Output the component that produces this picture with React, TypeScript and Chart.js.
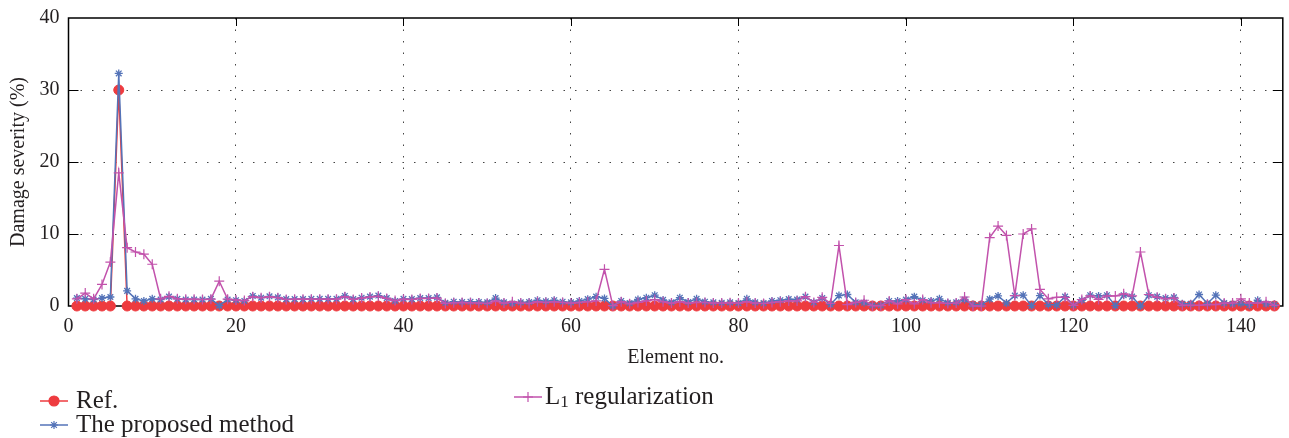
import React, { useEffect, useRef } from 'react';
import { Chart, registerables } from 'chart.js';
import { drawPoint } from 'chart.js/helpers';

Chart.register(...registerables);

const elementNos: number[] = Array.from({ length: 144 }, (_, i) => i + 1);

const refValues: number[] = [
  0, 0, 0, 0, 0, 30, 0, 0, 0, 0, 0, 0, 0, 0, 0, 0, 0, 0, 0, 0,
  0, 0, 0, 0, 0, 0, 0, 0, 0, 0, 0, 0, 0, 0, 0, 0, 0, 0, 0, 0,
  0, 0, 0, 0, 0, 0, 0, 0, 0, 0, 0, 0, 0, 0, 0, 0, 0, 0, 0, 0,
  0, 0, 0, 0, 0, 0, 0, 0, 0, 0, 0, 0, 0, 0, 0, 0, 0, 0, 0, 0,
  0, 0, 0, 0, 0, 0, 0, 0, 0, 0, 0, 0, 0, 0, 0, 0, 0, 0, 0, 0,
  0, 0, 0, 0, 0, 0, 0, 0, 0, 0, 0, 0, 0, 0, 0, 0, 0, 0, 0, 0,
  0, 0, 0, 0, 0, 0, 0, 0, 0, 0, 0, 0, 0, 0, 0, 0, 0, 0, 0, 0,
  0, 0, 0, 0,
];

const proposedValues: number[] = [
  1.1, 1.0, 0.9, 1.1, 1.25, 32.3, 2.1, 1.0, 0.7, 1.0,
  0.9, 1.3, 1.0, 0.9, 0.9, 0.9, 1.0, 0.05, 0.9, 0.8,
  0.7, 1.4, 1.15, 1.35, 1.2, 0.95, 0.95, 0.95, 1.0, 1.0,
  1.0, 1.0, 1.4, 0.95, 1.15, 1.3, 1.45, 1.1, 0.7, 1.0,
  0.95, 1.1, 1.1, 1.2, 0.45, 0.6, 0.55, 0.6, 0.55, 0.5,
  1.1, 0.5, 0.35, 0.5, 0.55, 0.8, 0.65, 0.8, 0.6, 0.5,
  0.7, 0.95, 1.3, 1.05, 0.0, 0.7, 0.4, 0.9, 1.15, 1.5,
  0.85, 0.5, 1.15, 0.55, 1.0, 0.6, 0.5, 0.45, 0.5, 0.4,
  1.0, 0.5, 0.4, 0.7, 0.8, 0.95, 0.9, 1.3, 0.5, 1.1,
  0.2, 1.45, 1.6, 0.5, 0.45, 0.1, 0.1, 0.7, 0.7, 0.9,
  1.3, 0.8, 0.7, 1.0, 0.45, 0.5, 0.9, 0.2, 0.2, 0.95,
  1.4, 0.4, 1.45, 1.5, 0.05, 1.45, 0.2, 0.15, 1.3, 0.1,
  0.8, 1.5, 1.4, 1.5, 0.05, 1.5, 1.3, 0.0, 1.5, 1.3,
  1.1, 1.2, 0.3, 0.3, 1.6, 0.35, 1.5, 0.4, 0.3, 0.35,
  0.1, 0.8, 0.3, 0.2,
];

const l1Values: number[] = [
  1.0, 1.8, 1.0, 3.0, 6.1, 18.5, 8.1, 7.5, 7.2, 5.8,
  1.0, 1.35, 1.0, 0.95, 0.95, 0.9, 0.95, 3.45, 0.95, 0.85,
  0.75, 1.3, 1.15, 1.3, 1.15, 0.9, 0.95, 0.95, 0.95, 0.95,
  0.95, 0.95, 1.3, 0.9, 1.1, 1.25, 1.35, 1.05, 0.75, 0.95,
  0.9, 1.05, 1.05, 1.1, 0.35, 0.45, 0.5, 0.45, 0.4, 0.35,
  0.7, 0.4, 0.6, 0.4, 0.35, 0.6, 0.5, 0.6, 0.5, 0.4,
  0.5, 0.6, 0.7, 5.1, 0.05, 0.6, 0.3, 0.5, 0.7, 0.9,
  0.6, 0.4, 0.6, 0.4, 0.5, 0.5, 0.4, 0.4, 0.45, 0.4,
  0.6, 0.4, 0.35, 0.5, 0.6, 0.7, 0.7, 1.3, 0.5, 1.2,
  0.35, 8.4, 0.2, 0.5, 0.8, 0.05, 0.05, 0.7, 0.3, 0.9,
  0.3, 0.9, 0.45, 0.45, 0.35, 0.4, 1.25, 0.0, 0.0, 9.5,
  11.1, 9.8, 1.45, 10.0, 10.7, 2.3, 1.0, 1.2, 1.2, 0.1,
  0.9, 1.4, 0.9, 1.4, 1.4, 1.7, 1.4, 7.5, 1.6, 1.2,
  1.0, 1.1, 0.1, 0.1, 0.1, 0.2, 0.2, 0.4, 0.4, 1.0,
  0.4, 0.4, 0.6, 0.1,
];

const seriesLabels: string[] = ['Ref.', 'The proposed method', 'L1 regularization'];
const xAxisTitle = 'Element no.';
const yAxisTitle = 'Damage severity (%)';

const RED = '#ee3b3f';
const BLUE = '#5473b8';
const PINK = '#c252ac';
const FONT = 'Liberation Serif';
const TEXT = '#231f20';
const AXIS_FONT_SIZE = 20;
const LEGEND_FONT_SIZE = 25;

const toXY = (vals: number[]) => elementNos.map((e, i) => ({ x: e, y: vals[i] }));

const framePlugin = {
  id: 'frame',
  beforeDatasetsDraw(chart: any) {
    const { ctx, chartArea: a, scales } = chart;
    const xs = scales.x;
    const ys = scales.y;
    ctx.save();
    ctx.strokeStyle = '#000';
    ctx.lineWidth = 1;
    ctx.beginPath();
    xs.ticks.forEach((t: any) => {
      if (t.value <= xs.min || t.value >= xs.max) return;
      const px = Math.round(xs.getPixelForValue(t.value)) + 0.5;
      ctx.moveTo(px, a.bottom);
      ctx.lineTo(px, a.bottom - 8);
      ctx.moveTo(px, a.top);
      ctx.lineTo(px, a.top + 8);
    });
    ys.ticks.forEach((t: any) => {
      if (t.value <= ys.min || t.value >= ys.max) return;
      const py = Math.round(ys.getPixelForValue(t.value)) + 0.5;
      ctx.moveTo(a.left, py);
      ctx.lineTo(a.left + 10, py);
      ctx.moveTo(a.right, py);
      ctx.lineTo(a.right - 10, py);
    });
    ctx.stroke();
    ctx.lineWidth = 1.5;
    ctx.strokeRect(a.left, a.top, a.right - a.left, a.bottom - a.top);
    ctx.restore();
  },
};

const legendPlugin = {
  id: 'customLegend',
  afterDraw(chart: any) {
    const { ctx } = chart;
    const items = [
      { label: seriesLabels[0], color: RED, style: 'circle', radius: 5, x: 40, y: 401 },
      { label: seriesLabels[1], color: BLUE, style: 'star', radius: 4, x: 40, y: 425 },
      { label: seriesLabels[2], color: PINK, style: 'cross', radius: 5, x: 514, y: 397 },
    ];
    ctx.save();
    items.forEach((it, idx) => {
      ctx.strokeStyle = it.color;
      ctx.lineWidth = 1.5;
      ctx.beginPath();
      ctx.moveTo(it.x, it.y);
      ctx.lineTo(it.x + 28, it.y);
      ctx.stroke();
      ctx.fillStyle = it.color;
      ctx.lineWidth = 1.2;
      drawPoint(ctx, { pointStyle: it.style, radius: it.radius, rotation: 0, borderWidth: 1.2 } as any, it.x + 14, it.y);
      ctx.fillStyle = TEXT;
      ctx.textBaseline = 'middle';
      ctx.textAlign = 'left';
      const tx = it.x + (idx === 2 ? 31 : 36);
      ctx.font = `${LEGEND_FONT_SIZE}px "${FONT}"`;
      if (idx === 2) {
        ctx.fillText('L', tx, it.y);
        const w = ctx.measureText('L').width;
        ctx.font = `${Math.round(LEGEND_FONT_SIZE * 0.68)}px "${FONT}"`;
        ctx.fillText('1', tx + w, it.y + 6);
        const w1 = ctx.measureText('1').width;
        ctx.font = `${LEGEND_FONT_SIZE}px "${FONT}"`;
        ctx.fillText(' regularization', tx + w + w1, it.y);
      } else {
        ctx.fillText(it.label, tx, it.y);
      }
    });
    ctx.restore();
  },
};

export default function App() {
  const canvasRef = useRef<HTMLCanvasElement>(null);

  useEffect(() => {
    const canvas = canvasRef.current;
    if (!canvas) return;
    const edgeColor = (min: number, max: number) => (c: any) =>
      c.tick && (c.tick.value <= min || c.tick.value >= max) ? 'rgba(0,0,0,0)' : '#444';

    const chart = new Chart(canvas, {
      type: 'line',
      data: {
        datasets: [
          {
            label: seriesLabels[0],
            data: toXY(refValues),
            borderColor: RED,
            backgroundColor: RED,
            borderWidth: 1.5,
            pointStyle: 'circle',
            pointRadius: 5,
            pointBorderWidth: 1,
            pointBackgroundColor: RED,
            pointBorderColor: RED,
            clip: false,
            order: 3,
          },
          {
            label: seriesLabels[1],
            data: toXY(proposedValues),
            borderColor: BLUE,
            backgroundColor: BLUE,
            borderWidth: 1.5,
            pointStyle: 'star',
            pointRadius: 4,
            pointBorderWidth: 1.3,
            pointBorderColor: BLUE,
            clip: false,
            order: 2,
          },
          {
            label: seriesLabels[2],
            data: toXY(l1Values),
            borderColor: PINK,
            backgroundColor: PINK,
            borderWidth: 1.5,
            pointStyle: 'cross',
            pointRadius: 5,
            pointBorderWidth: 1.2,
            pointBorderColor: PINK,
            clip: false,
            order: 1,
          },
        ] as any,
      },
      options: {
        animation: false,
        responsive: false,
        maintainAspectRatio: false,
        layout: { padding: { left: 7, right: 5, top: 18, bottom: 68 } },
        plugins: {
          legend: { display: false },
          tooltip: { enabled: false },
        },
        elements: { line: { tension: 0 } },
        scales: {
          x: {
            type: 'linear',
            min: 0,
            max: 145,
            ticks: {
              stepSize: 20,
              includeBounds: false,
              padding: 9,
              maxRotation: 0,
              color: TEXT,
              font: { family: FONT, size: AXIS_FONT_SIZE },
            },
            grid: { drawTicks: false, color: edgeColor(0, 145), lineWidth: 1 },
            border: { display: false, dash: [1.5, 10] },
            title: {
              display: true,
              text: xAxisTitle,
              color: TEXT,
              font: { family: FONT, size: AXIS_FONT_SIZE },
              padding: 0,
            },
            afterFit: (s: any) => {
              s.height = 64;
              s.paddingLeft = 0;
              s.paddingRight = 0;
            },
          },
          y: {
            min: 0,
            max: 40,
            ticks: {
              stepSize: 10,
              padding: 9,
              color: TEXT,
              font: { family: FONT, size: AXIS_FONT_SIZE },
            },
            grid: { drawTicks: false, color: edgeColor(0, 40), lineWidth: 1 },
            border: { display: false, dash: [1.5, 10] },
            title: {
              display: true,
              text: yAxisTitle,
              color: TEXT,
              font: { family: FONT, size: AXIS_FONT_SIZE },
              padding: 0,
            },
            afterFit: (s: any) => {
              s.width = 61.5;
              s.paddingTop = 0;
              s.paddingBottom = 0;
            },
          },
        } as any,
      },
      plugins: [framePlugin, legendPlugin],
    });
    return () => chart.destroy();
  }, []);

  return (
    <div style={{ position: 'absolute', left: 0, top: 0, width: 1289, height: 438 }}>
      <canvas ref={canvasRef} width={1289} height={438} style={{ display: 'block', width: 1289, height: 438 }} />
    </div>
  );
}
